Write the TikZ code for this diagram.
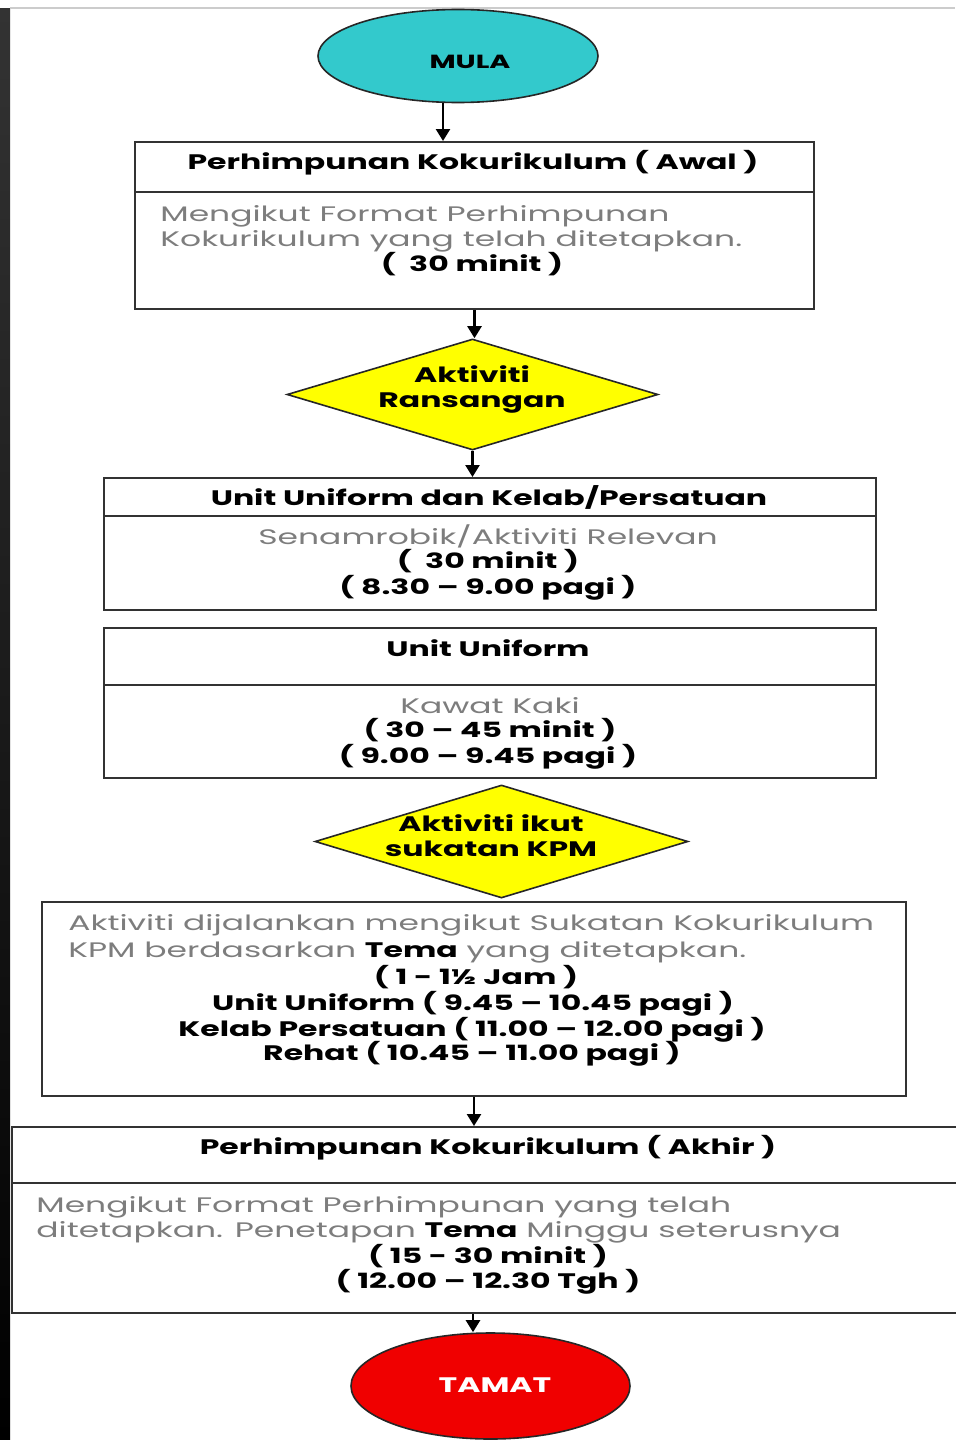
\documentclass[tikz,border=0pt]{standalone}
\usepackage{fontspec}
\setmainfont{Poppins}[FakeStretch=1.57, BoldFeatures={FakeStretch=1.5}]
\usetikzlibrary{shapes.geometric,arrows.meta}

\definecolor{mulacol}{RGB}{51,201,204}
\definecolor{choicecol}{RGB}{255,255,0}
\definecolor{tamatcol}{RGB}{240,0,0}
\definecolor{linecol}{RGB}{50,50,50}
\definecolor{greytext}{RGB}{125,125,125}

\tikzset{
  mybox/.style={draw=linecol, line width=1pt, inner sep=0pt},
  terminal/.style={ellipse, draw=black!85, line width=0.8pt, inner sep=0pt},
  choice/.style={diamond, draw=black!85, line width=0.8pt, fill=choicecol, inner sep=0pt},
  txt/.style={inner sep=0pt, text height=8pt, text depth=2.5pt, font=\fontsize{10.5}{12.5}\selectfont},
  boldtxt/.style={txt, font=\fontsize{10.5}{12.5}\selectfont\bfseries},
  greytxt/.style={txt, text=greytext},
  arr/.style={-{Triangle[length=6pt,width=7pt]}, line width=1.2pt},
}

\begin{document}
\begin{tikzpicture}[x=0.5pt, y=-0.5pt]
\useasboundingbox (0,0) rectangle (955,1440);
\shade[top color=black!80, bottom color=black] (0,8) rectangle (10,1440); % screen edge
\draw[black!20, line width=0.6pt] (10,8) -- (955,8);

% mula
\node[terminal, fill=mulacol, minimum width=140pt, minimum height=46.5pt] (mula) at (458,56) {};
\node[boldtxt, font=\fontsize{9.5}{11}\selectfont\bfseries] (mulatxt) at (470,63) {MULA};

% perhimpunan awal
\node[mybox, minimum width=339.5pt, minimum height=25pt] (awalhead) at (474.5,167) {};
\node[mybox, minimum width=339.5pt, minimum height=58.5pt] (awalbody) at (474.5,250.5) {};
\node[boldtxt] (awaltitle) at (473,164) {Perhimpunan Kokurikulum ( Awal )};
\node[greytxt, anchor=west] (awalline1) at (160,216) {Mengikut Format Perhimpunan};
\node[greytxt, anchor=west] (awalline2) at (160,241) {Kokurikulum yang telah ditetapkan.};
\node[boldtxt] (awaltime) at (472,266) {(\ \ 30 minit )};

% aktiviti ransangan
\node[choice, minimum width=185.5pt, minimum height=55.5pt] (ransang) at (472.5,394.5) {};
\node[boldtxt] (ransangline1) at (472,377) {Aktiviti};
\node[boldtxt] (ransangline2) at (472,402) {Ransangan};

% unit uniform dan kelab
\node[mybox, minimum width=386pt, minimum height=19pt] (unithead) at (490,497) {};
\node[mybox, minimum width=386pt, minimum height=47pt] (unitbody) at (490,563) {};
\node[boldtxt] (unittitle) at (489,500) {Unit Uniform dan Kelab/Persatuan};
\node[greytxt] (unitline1) at (488,539) {Senamrobik/Aktiviti Relevan};
\node[boldtxt] (unitline2) at (488,563) {(\ \ 30 minit )};
\node[boldtxt] (unitline3) at (488,589) {( 8.30 – 9.00 pagi )};

% unit uniform
\node[mybox, minimum width=386pt, minimum height=28.5pt] (uniformhead) at (490,656.5) {};
\node[mybox, minimum width=386pt, minimum height=46.5pt] (uniformbody) at (490,731.5) {};
\node[boldtxt] (uniformtitle) at (488,651) {Unit Uniform};
\node[greytxt] (uniformline1) at (490,708) {Kawat Kaki};
\node[boldtxt] (uniformline2) at (490,732) {( 30 – 45 minit )};
\node[boldtxt] (uniformline3) at (488,758) {( 9.00 – 9.45 pagi )};

% aktiviti ikut sukatan
\node[choice, minimum width=186.5pt, minimum height=56.5pt] (sukatan) at (501.5,841.5) {};
\node[boldtxt] (sukatanline1) at (491,826) {Aktiviti ikut};
\node[boldtxt] (sukatanline2) at (491,851) {sukatan KPM};

\node[mybox, minimum width=432pt, minimum height=97pt] (sukatanbox) at (474,999) {};
\node[greytxt, anchor=west] (sukatanline3) at (68,925) {Aktiviti dijalankan mengikut Sukatan Kokurikulum};
\node[greytxt, anchor=west] (sukatanline4) at (68,952) {KPM berdasarkan \textcolor{black}{\bfseries Tema} yang ditetapkan.};
\node[boldtxt] (sukatanline5) at (476,979) {( 1 - 1½ Jam )};
\node[boldtxt] (sukatanline6) at (473,1005) {Unit Uniform ( 9.45 – 10.45 pagi )};
\node[boldtxt] (sukatanline7) at (472,1031) {Kelab Persatuan ( 11.00 – 12.00 pagi )};
\node[boldtxt] (sukatanline8) at (472,1055) {Rehat ( 10.45 – 11.00 pagi )};

% perhimpunan akhir
\node[mybox, minimum width=477pt, minimum height=28pt] (akhirhead) at (489,1155) {};
\node[mybox, minimum width=477pt, minimum height=65pt] (akhirbody) at (489,1248) {};
\node[boldtxt] (akhirtitle) at (488,1149) {Perhimpunan Kokurikulum ( Akhir )};
\node[greytxt, anchor=west] (akhirline1) at (36,1207) {Mengikut Format Perhimpunan yang telah};
\node[greytxt, anchor=west] (akhirline2) at (36,1232) {ditetapkan. Penetapan \textcolor{black}{\bfseries Tema} Minggu seterusnya};
\node[boldtxt] (akhirline3) at (488,1258) {( 15 - 30 minit )};
\node[boldtxt] (akhirline4) at (488,1283) {( 12.00 – 12.30 Tgh )};

% tamat
\node[terminal, fill=tamatcol, minimum width=139.5pt, minimum height=53pt] (tamat) at (490.5,1386) {};
\node[boldtxt, text=white] (tamattxt) at (495,1387) {TAMAT};

% arrows
\draw[arr] (443,0 |- mula.south) -- (443,0 |- awalhead.north);
\draw[arr] (awalbody.south) -- (awalbody.south |- ransang.north);
\draw[arr] (ransang.south) -- (ransang.south |- unithead.north);
\draw[arr] (sukatanbox.south) -- (sukatanbox.south |- akhirhead.north);
\draw[arr] (473,0 |- akhirbody.south) -- (473,0 |- tamat.north);
\end{tikzpicture}
\end{document}
